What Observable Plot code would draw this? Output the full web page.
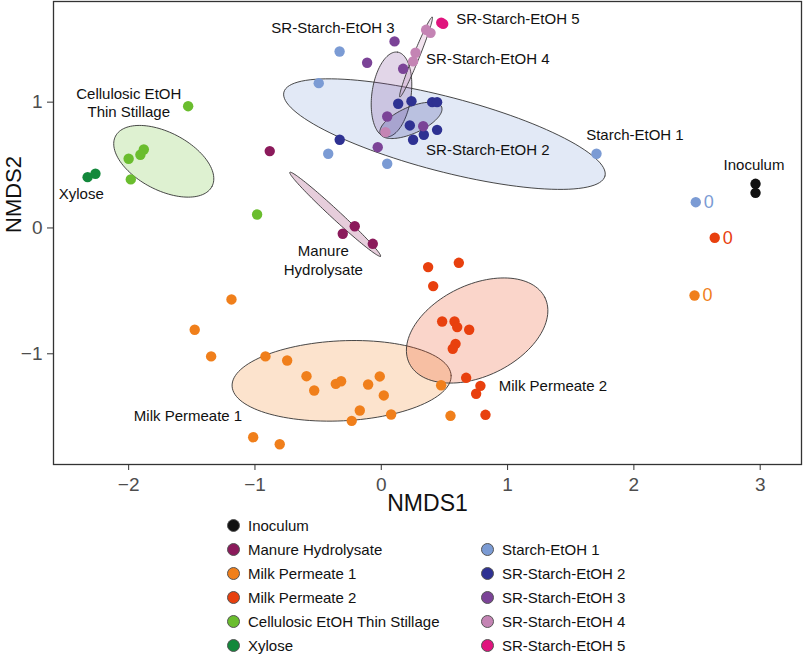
<!DOCTYPE html>
<html>
<head>
<meta charset="utf-8">
<script src="https://cdn.jsdelivr.net/npm/d3@7"></script>
<script src="https://cdn.jsdelivr.net/npm/@observablehq/plot@0.6"></script>
<style>
  html, body { margin: 0; padding: 0; background: #fff; }
  #wrap { position: relative; width: 803px; height: 654px; font-family: "Liberation Sans", Arial, Helvetica, sans-serif; }
  #legend { position: absolute; left: 0; top: 0; width: 803px; height: 654px; pointer-events: none; }
  .item { position: absolute; height: 20px; display: flex; align-items: center; font-size: 15px; color: #111; white-space: nowrap; }
  .sw { width: 13px; height: 13px; border-radius: 50%; box-sizing: border-box; border: 0.7px solid #555; margin-right: 8px; }
</style>
</head>
<body>
<div id="wrap"><div id="chart"></div><div id="legend"></div></div>
<script>
// ---- data ----
const groups = ["Inoculum","Manure Hydrolysate","Milk Permeate 1","Milk Permeate 2","Cellulosic EtOH Thin Stillage","Xylose","Starch-EtOH 1","SR-Starch-EtOH 2","SR-Starch-EtOH 3","SR-Starch-EtOH 4","SR-Starch-EtOH 5"];
const colors = ["#111111","#8b1a5b","#f07f1b","#e8400e","#6abd2e","#13883b","#7b9bd4","#2e3192","#7b4397","#c484b4","#e0147e"];

const inoculum = [[2.963,0.351],[2.963,0.279]];
const manure = [[-0.883,0.611],[-0.21,0.014],[-0.305,-0.046],[-0.067,-0.126]];
const milk1 = [[2.48,-0.537],[-1.186,-0.568],[-1.477,-0.809],[-1.347,-1.021],[-0.917,-1.021],[-0.745,-1.053],[-0.592,-1.178],[-0.531,-1.292],[-0.36,-1.239],[-0.318,-1.218],[-0.104,-1.244],[-0.012,-1.18],[0.02,-1.331],[-0.17,-1.451],[-0.234,-1.533],[0.078,-1.483],[0.474,-1.25],[0.548,-1.493],[-1.014,-1.663],[-0.804,-1.719]];
const milk2 = [[2.64,-0.078],[0.371,-0.311],[0.614,-0.277],[0.411,-0.462],[0.482,-0.743],[0.58,-0.743],[0.601,-0.788],[0.696,-0.809],[0.588,-0.921],[0.566,-0.96],[0.672,-1.191],[0.785,-1.255],[0.751,-1.318],[0.825,-1.485]];
const cellulosic = [[-1.529,0.968],[-1.88,0.624],[-1.907,0.582],[-2.0,0.55],[-1.983,0.386],[-0.983,0.107]];
const xylose = [[-2.325,0.404],[-2.263,0.431]];
const starch1 = [[2.49,0.205],[1.704,0.59],[-0.33,1.403],[-0.495,1.151],[-0.42,0.59],[0.047,0.51]];
const sr2 = [[0.134,0.987],[0.239,1.008],[0.403,1.0],[0.442,1.0],[0.226,0.815],[0.337,0.741],[0.252,0.701],[0.442,0.78],[-0.329,0.701]];
const sr3 = [[0.105,1.483],[-0.112,1.313],[0.173,1.265],[0.047,0.886],[0.332,0.809],[-0.028,0.642]];
const sr4 = [[0.355,1.575],[0.39,1.551],[0.271,1.393],[0.252,1.324],[0.033,0.762]];
const sr5 = [[0.475,1.632],[0.49,1.622]];

// ellipse parameters: centre, semi-axes (data units), rotation (degrees)
const ellipses = [
  {group:"Starch-EtOH 1", cx:0.50, cy:0.746, a:1.314, b:0.296, angle:-14.7},
  {group:"Cellulosic EtOH Thin Stillage", cx:-1.722, cy:0.530, a:0.431, b:0.229, angle:-27.7},
  {group:"Manure Hydrolysate", cx:-0.365, cy:0.109, a:0.49, b:0.036, angle:-42.9},
  {group:"Milk Permeate 1", cx:-0.314, cy:-1.215, a:0.868, b:0.318, angle:2.8},
  {group:"Milk Permeate 2", cx:0.759, cy:-0.815, a:0.597, b:0.363, angle:25.9},
  {group:"SR-Starch-EtOH 3", cx:0.081, cy:1.061, a:0.34, b:0.155, angle:82},
  {group:"SR-Starch-EtOH 2", cx:0.235, cy:0.855, a:0.265, b:0.105, angle:24},
  {group:"SR-Starch-EtOH 4", cx:0.275, cy:1.358, a:0.342, b:0.025, angle:68}
];

const labels = [
  {text:"SR-Starch-EtOH 3", x:-0.382, y:1.594, anchor:"middle"},
  {text:"SR-Starch-EtOH 5", x:0.593, y:1.657, anchor:"start"},
  {text:"SR-Starch-EtOH 4", x:0.355, y:1.345, anchor:"start"},
  {text:"SR-Starch-EtOH 2", x:0.355, y:0.616, anchor:"start"},
  {text:"Starch-EtOH 1", x:1.622, y:0.741, anchor:"start"},
  {text:"Inoculum", x:2.951, y:0.510, anchor:"middle"},
  {text:"Cellulosic EtOH\nThin Stillage", x:-1.999, y:0.999, anchor:"middle"},
  {text:"Xylose", x:-2.375, y:0.277, anchor:"middle"},
  {text:"Manure\nHydrolysate", x:-0.459, y:-0.252, anchor:"middle"},
  {text:"Milk Permeate 1", x:-1.530, y:-1.485, anchor:"middle"},
  {text:"Milk Permeate 2", x:0.930, y:-1.258, anchor:"start"}
];

const zeroLabels = [
  {group:"Starch-EtOH 1", x:2.49, y:0.205, text:"0"},
  {group:"Milk Permeate 2", x:2.64, y:-0.078, text:"0"},
  {group:"Milk Permeate 1", x:2.48, y:-0.537, text:"0"}
];

const xTicks = [-2,-1,0,1,2,3];
const yTicks = [-1,0,1];

// ---- build tables ----
const seriesByGroup = {
  "Inoculum": inoculum, "Manure Hydrolysate": manure, "Milk Permeate 1": milk1, "Milk Permeate 2": milk2,
  "Cellulosic EtOH Thin Stillage": cellulosic, "Xylose": xylose, "Starch-EtOH 1": starch1,
  "SR-Starch-EtOH 2": sr2, "SR-Starch-EtOH 3": sr3, "SR-Starch-EtOH 4": sr4, "SR-Starch-EtOH 5": sr5
};
const points = [];
for (const g of groups) for (const [x, y] of seriesByGroup[g]) points.push({group: g, x, y});
const colorOf = g => colors[groups.indexOf(g)];

function ellipsePath(e) {
  const phi = e.angle * Math.PI / 180, out = [];
  for (let i = 0; i <= 120; i++) {
    const t = 2 * Math.PI * i / 120;
    out.push({
      x: e.cx + e.a * Math.cos(t) * Math.cos(phi) - e.b * Math.sin(t) * Math.sin(phi),
      y: e.cy + e.a * Math.cos(t) * Math.sin(phi) + e.b * Math.sin(t) * Math.cos(phi)
    });
  }
  return out;
}

const fmt = d3.format("d");
const font = "Liberation Sans, Arial, Helvetica, sans-serif";
const marks = [];
for (const e of ellipses) {
  marks.push(Plot.line(ellipsePath(e), {x:"x", y:"y", fill: colorOf(e.group), fillOpacity: 0.22, stroke:"#333", strokeWidth:0.9}));
}
marks.push(
  Plot.dot(points, {x:"x", y:"y", fill:"group", r:5.2}),
  Plot.text(labels.filter(d => d.anchor === "middle"), {x:"x", y:"y", text:"text", textAnchor:"middle", fontSize:15, fill:"#111", lineHeight:1.22}),
  Plot.text(labels.filter(d => d.anchor === "start"), {x:"x", y:"y", text:"text", textAnchor:"start", fontSize:15, fill:"#111"}),
  Plot.text(zeroLabels, {x:"x", y:"y", text:"text", fill:"group", textAnchor:"start", dx:8, fontSize:18}),
  Plot.frame({stroke:"#333", strokeWidth:1.3}),
  Plot.axisX({ticks:xTicks, tickFormat:fmt, tickSize:6, tickPadding:7, fontSize:19, label:null, stroke:"#333", fill:"#4d4d4d"}),
  Plot.axisY({ticks:yTicks, tickFormat:fmt, tickSize:6, tickPadding:5, fontSize:19, label:null, stroke:"#333", fill:"#4d4d4d"}),
  Plot.text(["NMDS1"], {frameAnchor:"bottom", dy:46, fontSize:23, fill:"#111"}),
  Plot.text(["NMDS2"], {frameAnchor:"left", rotate:-90, dx:-40, fontSize:22, fill:"#111"})
);

const chart = Plot.plot({
  width: 803, height: 530,
  marginLeft: 53, marginRight: 2, marginTop: 1, marginBottom: 66,
  x: {domain: [-2.595, 3.327]},
  y: {domain: [-1.88, 1.80]},
  color: {domain: groups, range: colors},
  style: {fontFamily: font, background: "white", overflow: "visible"},
  marks
});
document.getElementById("chart").appendChild(chart);

// ---- legend (HTML laid over the lower part of the page) ----
const legendCols = [
  ["Inoculum","Manure Hydrolysate","Milk Permeate 1","Milk Permeate 2","Cellulosic EtOH Thin Stillage","Xylose"],
  [null,"Starch-EtOH 1","SR-Starch-EtOH 2","SR-Starch-EtOH 3","SR-Starch-EtOH 4","SR-Starch-EtOH 5"]
];
const legend = document.getElementById("legend");
const colLeft = [227, 481];
legendCols.forEach((col, ci) => col.forEach((g, ri) => {
  if (!g) return;
  const it = document.createElement("div");
  it.className = "item";
  it.style.left = colLeft[ci] + "px";
  it.style.top = (525 + 24 * ri - 10) + "px";
  const sw = document.createElement("div");
  sw.className = "sw";
  sw.style.background = colorOf(g);
  it.appendChild(sw);
  it.appendChild(document.createTextNode(g));
  legend.appendChild(it);
}));
</script>
</body>
</html>
